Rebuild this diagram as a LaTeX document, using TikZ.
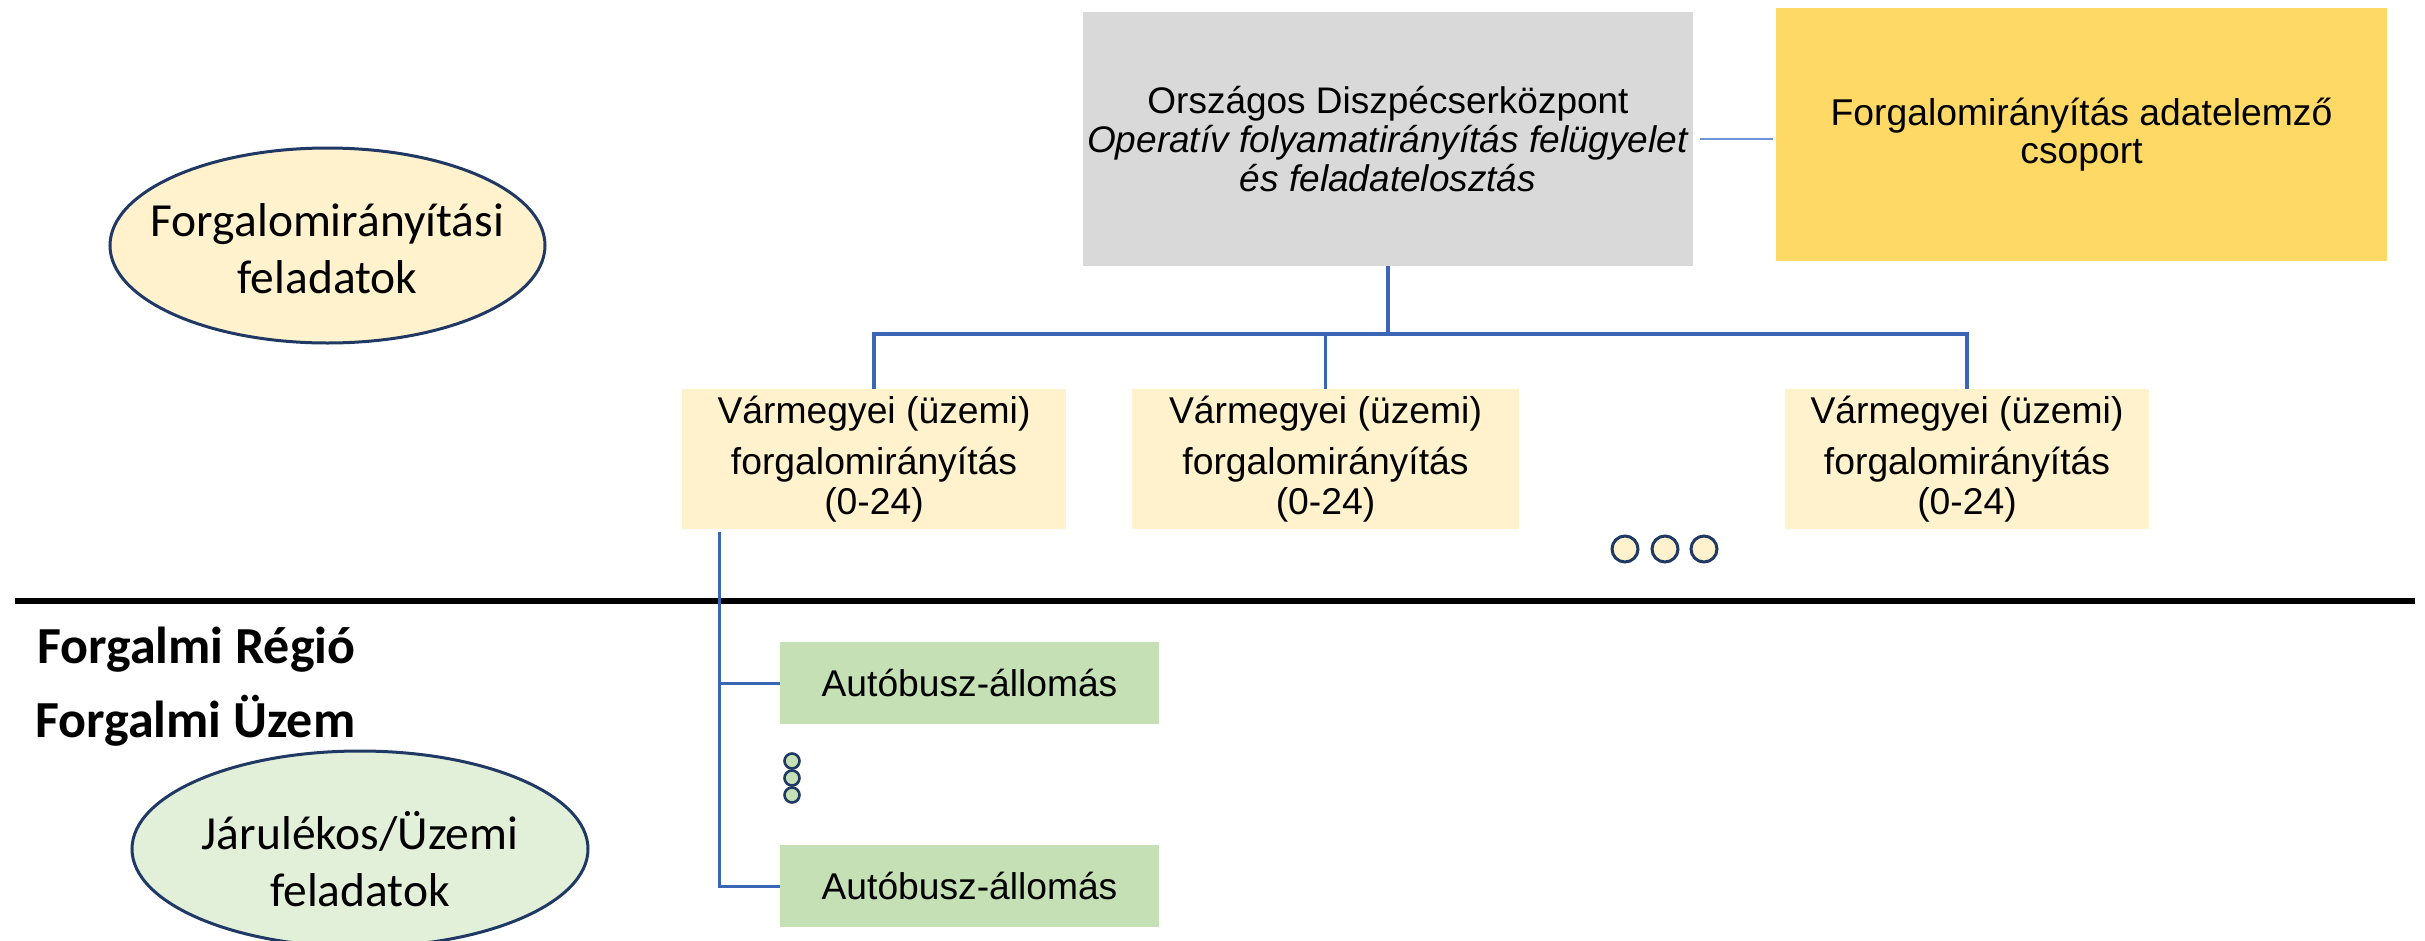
\documentclass[tikz,border=0pt]{standalone}
\usepackage{fontspec}
\usetikzlibrary{shapes.geometric,calc}
\newfontfamily\arialf{Liberation Sans}
\newfontfamily\calf{Carlito}
\definecolor{grayfill}{HTML}{D9D9D9}
\definecolor{goldfill}{HTML}{FFD966}
\definecolor{paleyellow}{HTML}{FFF2CC}
\definecolor{greenfill}{HTML}{C5E0B4}
\definecolor{palegreen}{HTML}{E2F0D9}
\definecolor{navy}{HTML}{1F3864}
\definecolor{connblue}{HTML}{3B66B5}
\definecolor{lightblue}{HTML}{6F94D6}
\tikzset{
  boxnode/.style={rectangle, inner sep=0pt, align=center, text=black},
  ovalshape/.style={ellipse, draw=navy, line width=3pt, inner sep=0pt},
  ovaltext/.style={inner sep=0pt, align=center, font=\calf\fontsize{47.5}{56.5}\selectfont},
  conn/.style={draw=connblue, line width=3.2pt},
  dotnode/.style={circle, draw=navy, line width=3pt, inner sep=0pt},
  region/.style={anchor=base west, inner sep=0pt, font=\calf\bfseries\fontsize{52}{54}\selectfont}
}
\begin{document}
\begin{tikzpicture}[x=1pt,y=-1pt]
\useasboundingbox (0,0) rectangle (2425,940);
% top boxes
\node[boxnode, fill=grayfill, minimum width=610pt, minimum height=254pt,
      font=\arialf\fontsize{37}{39}\selectfont] (gray) at (1388,139)
  {Országos Diszpécserközpont\\\textit{Operatív folyamatirányítás felügyelet}\\\textit{és feladatelosztás}};
\node[boxnode, fill=goldfill, minimum width=611pt, minimum height=253pt,
      font=\arialf\fontsize{37.3}{38}\selectfont] (yellow) at (2081.5,134.5)
  {Forgalomirányítás adatelemző\\csoport};
% county boxes
\node[boxnode, fill=paleyellow, minimum width=384pt, minimum height=140pt,
      font=\arialf\fontsize{37.3}{40}\selectfont] (v1) at (874,459)
  {Vármegyei (üzemi)\\[11pt]forgalomirányítás\\(0-24)};
\node[boxnode, fill=paleyellow, minimum width=387pt, minimum height=140pt,
      font=\arialf\fontsize{37.3}{40}\selectfont] (v2) at (1325.5,459)
  {Vármegyei (üzemi)\\[11pt]forgalomirányítás\\(0-24)};
\node[boxnode, fill=paleyellow, minimum width=364pt, minimum height=140pt,
      font=\arialf\fontsize{37.3}{40}\selectfont] (v3) at (1967,459)
  {Vármegyei (üzemi)\\[11pt]forgalomirányítás\\(0-24)};
% station boxes
\node[boxnode, fill=greenfill, minimum width=379pt, minimum height=82pt,
      font=\arialf\fontsize{37.2}{40}\selectfont] (g1) at (969.5,683) {Autóbusz-állomás};
\node[boxnode, fill=greenfill, minimum width=379pt, minimum height=82pt,
      font=\arialf\fontsize{37.2}{40}\selectfont] (g2) at (969.5,886) {Autóbusz-állomás};
% ovals
\node[ovalshape, fill=paleyellow, minimum width=435pt, minimum height=195pt] (e1) at (327.5,245.5) {};
\node[ovaltext] (e1t) at ($(e1.center)+(0,3)$) {Forgalomirányítási\\feladatok};
\node[ovalshape, fill=palegreen, minimum width=456pt, minimum height=196pt] (e2) at (360,849) {};
\node[ovaltext] (e2t) at ($(e2.center)+(0,10)$) {Járulékos/Üzemi\\feladatok};
% region labels
\node[region] (r1) at (37,663) {Forgalmi Régió};
\node[region] (r2) at (35,737) {Forgalmi Üzem};
% separator line
\coordinate (sepL) at (15,601);
\coordinate (sepR) at (2415,601);
\draw[line width=6.5pt, black] (sepL) -- (sepR);
% dots
\node[dotnode, fill=paleyellow, minimum size=26pt] (hd1) at (1625,549) {};
\node[dotnode, fill=paleyellow, minimum size=26pt] (hd2) at (1665,549) {};
\node[dotnode, fill=paleyellow, minimum size=26pt] (hd3) at (1704,549) {};
\node[dotnode, fill=greenfill, minimum size=15pt, line width=2.6pt] (vd1) at (792,761) {};
\node[dotnode, fill=greenfill, minimum size=15pt, line width=2.6pt] (vd2) at (792,778) {};
\node[dotnode, fill=greenfill, minimum size=15pt, line width=2.6pt] (vd3) at (792,795) {};
% connectors
\coordinate (j) at (1388,334);
\draw[conn] (gray.south) -- (j);
\draw[conn] (v1.north) |- (j) -| (v3.north);
\draw[conn] (v2.north) -- (v2.north |- j);
\draw[draw=lightblue, line width=1.6pt, shorten <=7pt, shorten >=3pt] (gray.east) -- (gray.east -| yellow.west);
\coordinate (b0) at (719,532);
\draw[conn, line width=3pt] (b0) |- (g2.west);
\draw[conn, line width=3pt] (b0 |- g1.west) -- (g1.west);
\end{tikzpicture}
\end{document}
